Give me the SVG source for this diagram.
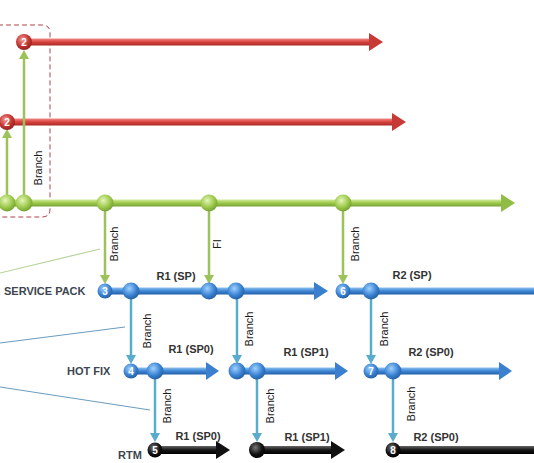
<svg xmlns="http://www.w3.org/2000/svg" width="534" height="463" viewBox="0 0 534 463">
<defs>
<linearGradient id="gRed" x1="0" y1="0" x2="0" y2="1"><stop offset="0" stop-color="#f08a86"/><stop offset="0.5" stop-color="#d9413c"/><stop offset="1" stop-color="#a82a27"/></linearGradient>
<linearGradient id="gGreen" x1="0" y1="0" x2="0" y2="1"><stop offset="0" stop-color="#d2ec9a"/><stop offset="0.5" stop-color="#9cc84a"/><stop offset="1" stop-color="#78a236"/></linearGradient>
<linearGradient id="gBlue" x1="0" y1="0" x2="0" y2="1"><stop offset="0" stop-color="#8cc0f0"/><stop offset="0.5" stop-color="#3d85d3"/><stop offset="1" stop-color="#235fa8"/></linearGradient>
<linearGradient id="gBlack" x1="0" y1="0" x2="0" y2="1"><stop offset="0" stop-color="#666"/><stop offset="0.5" stop-color="#151515"/><stop offset="1" stop-color="#000"/></linearGradient>
<radialGradient id="nGreen" cx="0.4" cy="0.35" r="0.7"><stop offset="0" stop-color="#e4f6b8"/><stop offset="0.6" stop-color="#9cc84a"/><stop offset="1" stop-color="#6e9a2c"/></radialGradient>
<radialGradient id="nBlue" cx="0.4" cy="0.35" r="0.7"><stop offset="0" stop-color="#9fd0ff"/><stop offset="0.6" stop-color="#3a82d2"/><stop offset="1" stop-color="#1f5a9e"/></radialGradient>
<radialGradient id="nRed" cx="0.4" cy="0.35" r="0.7"><stop offset="0" stop-color="#f59a96"/><stop offset="0.6" stop-color="#c23430"/><stop offset="1" stop-color="#8e1f1c"/></radialGradient>
<radialGradient id="nBlack" cx="0.4" cy="0.35" r="0.7"><stop offset="0" stop-color="#777"/><stop offset="0.6" stop-color="#111"/><stop offset="1" stop-color="#000"/></radialGradient>
</defs>
<style>
.lbl{font-family:"Liberation Sans",Arial,sans-serif;font-size:11px;fill:#1a1a1a}
.bl{font-family:"Liberation Sans",Arial,sans-serif;font-size:11px;font-weight:bold;fill:#333;text-anchor:middle}
.side{font-family:"Liberation Sans",Arial,sans-serif;font-size:11px;font-weight:bold;fill:#3c4650}
.num{font-family:"Liberation Sans",Arial,sans-serif;font-size:10px;font-weight:bold;fill:#fff;text-anchor:middle}
.vg{stroke:#9cc25a;stroke-width:2.5;fill:none}
.vt{stroke:#5aaccc;stroke-width:2.5;fill:none}
.hg{fill:#9cc25a}
.ht{fill:#5aaccc}
.diag{stroke-width:1.2;fill:none}
</style>
<rect width="534" height="463" fill="#fff"/>

<!-- dashed region -->
<path d="M -10 25 H 42 Q 50 25 50 33 V 209 Q 50 217 42 217 H -10" fill="none" stroke="#a8484a" stroke-width="1" stroke-dasharray="5 3"/>

<!-- callout lines -->
<g id="callouts">
<line class="diag" x1="0" y1="273" x2="100" y2="249" stroke="#b9d39a"/>
<line class="diag" x1="0" y1="343" x2="125" y2="327" stroke="#6a9ec0"/>
<line class="diag" x1="0" y1="387" x2="150" y2="410" stroke="#6a9ec0"/>
</g>

<!-- timelines -->
<g id="timelines">
<g id="red1"><rect x="24" y="38.5" width="348" height="7" fill="url(#gRed)"/><polygon points="369,33 383,42 369,51" fill="#c83a36"/></g>
<g id="red2"><rect x="7" y="118.5" width="389" height="7" fill="url(#gRed)"/><polygon points="392,113 406,122 392,131" fill="#c83a36"/></g>
<g id="main"><rect x="0" y="199.5" width="504" height="7" fill="url(#gGreen)"/><polygon points="501,194 515,203 501,212" fill="#8fbc44"/></g>
<g id="sp1"><rect x="105" y="287.5" width="213" height="7" fill="url(#gBlue)"/><polygon points="314,282 328,291 314,300" fill="#3a80cf"/></g>
<g id="sp2"><rect x="343" y="287.5" width="191" height="7" fill="url(#gBlue)"/></g>
<g id="hf1"><rect x="130" y="367.5" width="80" height="7" fill="url(#gBlue)"/><polygon points="206,362 219,371 206,380" fill="#3a80cf"/></g>
<g id="hf2"><rect x="237" y="367.5" width="101" height="7" fill="url(#gBlue)"/><polygon points="335,362 348,371 335,380" fill="#3a80cf"/></g>
<g id="hf3"><rect x="371" y="367.5" width="131" height="7" fill="url(#gBlue)"/><polygon points="499,362 512,371 499,380" fill="#3a80cf"/></g>
<g id="rtm1"><rect x="155" y="446" width="65" height="8" fill="url(#gBlack)"/><polygon points="216,441 230,450 216,459" fill="#111"/></g>
<g id="rtm2"><rect x="257" y="446" width="78" height="8" fill="url(#gBlack)"/><polygon points="331,441 345,450 331,459" fill="#111"/></g>
<g id="rtm3"><rect x="393" y="446" width="141" height="8" fill="url(#gBlack)"/></g>
</g>

<!-- connectors -->
<g id="connectors">
<line class="vg" x1="7" y1="203" x2="7" y2="135"/><polygon class="hg" points="2,138 7,129 12,138"/>
<line class="vg" x1="24" y1="203" x2="24" y2="56"/><polygon class="hg" points="19,59 24,50 29,59"/>
<line class="vg" x1="105" y1="203" x2="105" y2="278"/><polygon class="hg" points="100,275 105,284 110,275"/>
<line class="vg" x1="209" y1="203" x2="209" y2="278"/><polygon class="hg" points="204,275 209,284 214,275"/>
<line class="vg" x1="343" y1="203" x2="343" y2="278"/><polygon class="hg" points="338,275 343,284 348,275"/>
<line class="vt" x1="131" y1="291" x2="131" y2="358"/><polygon class="ht" points="126,355 131,364 136,355"/>
<line class="vt" x1="237" y1="291" x2="237" y2="358"/><polygon class="ht" points="232,355 237,364 242,355"/>
<line class="vt" x1="371" y1="291" x2="371" y2="358"/><polygon class="ht" points="366,355 371,364 376,355"/>
<line class="vt" x1="155" y1="371" x2="155" y2="436"/><polygon class="ht" points="150,433 155,442 160,433"/>
<line class="vt" x1="257" y1="371" x2="257" y2="436"/><polygon class="ht" points="252,433 257,442 262,433"/>
<line class="vt" x1="393" y1="371" x2="393" y2="436"/><polygon class="ht" points="388,433 393,442 398,433"/>
</g>

<!-- nodes -->
<g id="n-r2a"><circle cx="24" cy="42" r="8" fill="url(#nRed)"/><text class="num" x="24" y="45.5">2</text></g>
<g id="n-r2b"><circle cx="7" cy="122" r="8" fill="url(#nRed)"/><text class="num" x="7" y="125.5">2</text></g>
<g id="n-g1"><circle cx="7" cy="203" r="8.5" fill="url(#nGreen)"/></g>
<g id="n-g2"><circle cx="24" cy="203" r="8.5" fill="url(#nGreen)"/></g>
<g id="n-g3"><circle cx="105" cy="203" r="8.5" fill="url(#nGreen)"/></g>
<g id="n-g4"><circle cx="209" cy="203" r="8.5" fill="url(#nGreen)"/></g>
<g id="n-g5"><circle cx="343" cy="203" r="8.5" fill="url(#nGreen)"/></g>

<g id="n3"><circle cx="105" cy="291" r="7.5" fill="url(#nBlue)"/><text class="num" x="105" y="294.5">3</text></g>
<g id="n-b1"><circle cx="131" cy="291" r="8.5" fill="url(#nBlue)"/></g>
<g id="n-b2"><circle cx="209" cy="291" r="8.5" fill="url(#nBlue)"/></g>
<g id="n-b3"><circle cx="236" cy="291" r="8.5" fill="url(#nBlue)"/></g>
<g id="n6"><circle cx="343" cy="291" r="7.5" fill="url(#nBlue)"/><text class="num" x="343" y="294.5">6</text></g>
<g id="n-b4"><circle cx="371" cy="291" r="8.5" fill="url(#nBlue)"/></g>

<g id="n4"><circle cx="131" cy="371" r="7.5" fill="url(#nBlue)"/><text class="num" x="131" y="374.5">4</text></g>
<g id="n-h1"><circle cx="155" cy="371" r="8.5" fill="url(#nBlue)"/></g>
<g id="n-h2"><circle cx="237" cy="371" r="8.5" fill="url(#nBlue)"/></g>
<g id="n-h3"><circle cx="257" cy="371" r="8.5" fill="url(#nBlue)"/></g>
<g id="n7"><circle cx="371" cy="371" r="7.5" fill="url(#nBlue)"/><text class="num" x="371" y="374.5">7</text></g>
<g id="n-h4"><circle cx="393" cy="371" r="8.5" fill="url(#nBlue)"/></g>

<g id="n5"><circle cx="155" cy="450" r="7.5" fill="url(#nBlack)"/><text class="num" x="155" y="453.5">5</text></g>
<g id="n-k1"><circle cx="257" cy="450" r="8" fill="url(#nBlack)"/></g>
<g id="n8"><circle cx="393" cy="450" r="7.5" fill="url(#nBlack)"/><text class="num" x="393" y="453.5">8</text></g>

<!-- labels -->
<g id="labels">
<text class="lbl" x="42" y="168" text-anchor="middle" transform="rotate(-90 42 168)">Branch</text>
<text class="lbl" x="118" y="244" text-anchor="middle" transform="rotate(-90 118 244)">Branch</text>
<text class="lbl" x="221" y="244" text-anchor="middle" transform="rotate(-90 221 244)">FI</text>
<text class="lbl" x="359" y="244" text-anchor="middle" transform="rotate(-90 359 244)">Branch</text>
<text class="lbl" x="151" y="331" text-anchor="middle" transform="rotate(-90 151 331)">Branch</text>
<text class="lbl" x="253" y="329" text-anchor="middle" transform="rotate(-90 253 329)">Branch</text>
<text class="lbl" x="388" y="329" text-anchor="middle" transform="rotate(-90 388 329)">Branch</text>
<text class="lbl" x="171" y="406" text-anchor="middle" transform="rotate(-90 171 406)">Branch</text>
<text class="lbl" x="274" y="406" text-anchor="middle" transform="rotate(-90 274 406)">Branch</text>
<text class="lbl" x="415" y="404" text-anchor="middle" transform="rotate(-90 415 404)">Branch</text>

<text class="bl" x="176" y="280">R1 (SP)</text>
<text class="bl" x="412" y="279">R2 (SP)</text>
<text class="bl" x="191" y="353">R1 (SP0)</text>
<text class="bl" x="306" y="356">R1 (SP1)</text>
<text class="bl" x="431" y="356">R2 (SP0)</text>
<text class="bl" x="198" y="440">R1 (SP0)</text>
<text class="bl" x="307" y="441">R1 (SP1)</text>
<text class="bl" x="436" y="441">R2 (SP0)</text>

<text class="side" x="4" y="295">SERVICE PACK</text>
<text class="side" x="67" y="375">HOT FIX</text>
<text class="side" x="118" y="459">RTM</text>
</g>
</svg>
